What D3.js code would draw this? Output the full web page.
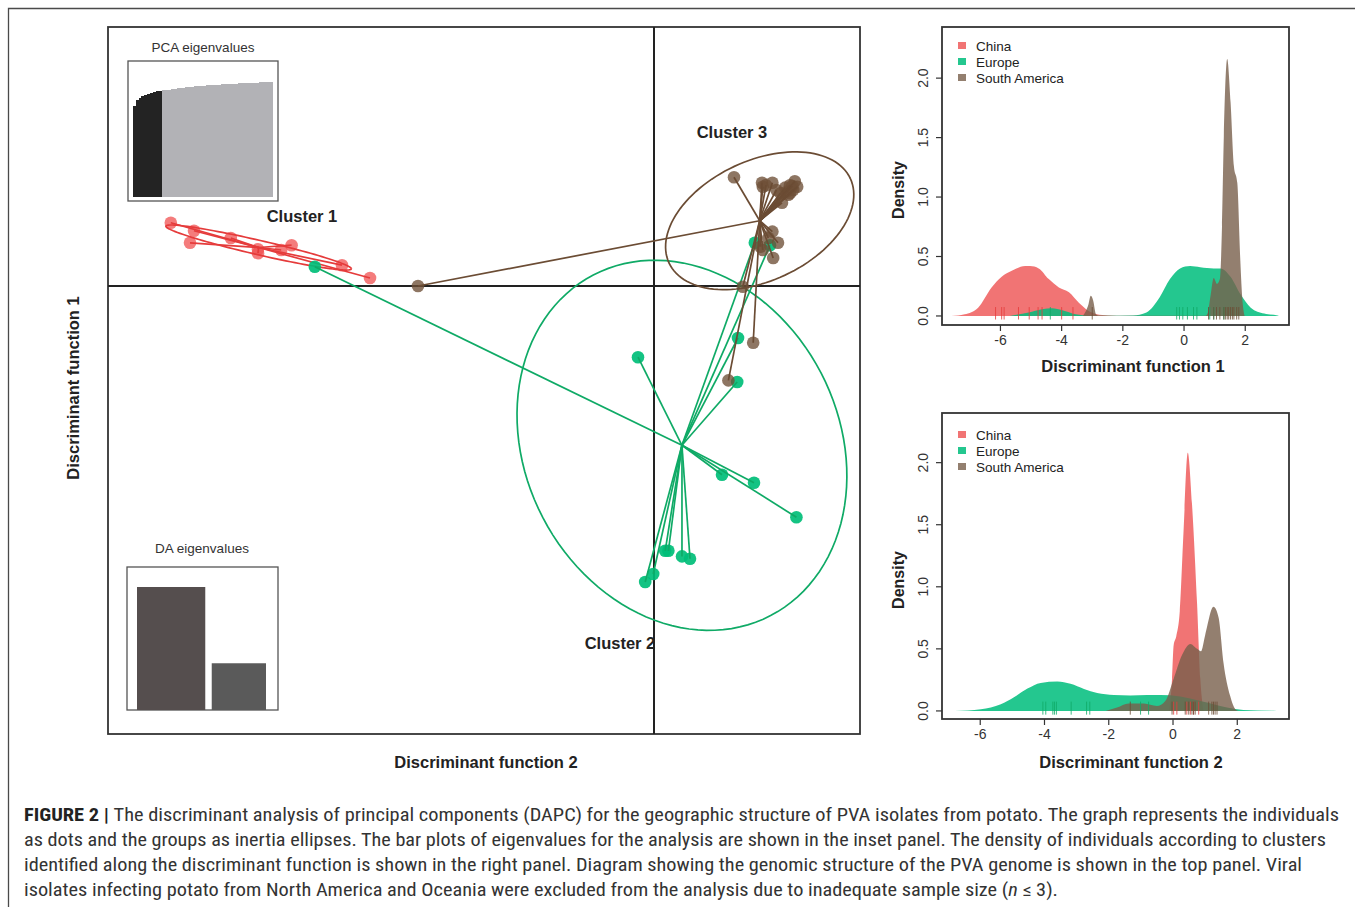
<!DOCTYPE html>
<html>
<head>
<meta charset="utf-8">
<script src="https://cdn.jsdelivr.net/npm/d3@7.9.0/dist/d3.min.js"></script>
<style>
  body { margin: 0; background: #fff; }
  svg text { font-family: "Liberation Sans", Arial, Helvetica, sans-serif; }
</style>
</head>
<body>
<div id="chart"></div>
<script>
// ---- data ----
const groups = ["China", "Europe", "South America"];

// individuals on the two discriminant functions (x, y)
const chinaPts = [[-6.04, 0.79], [-5.75, 0.69], [-5.80, 0.54], [-5.29, 0.60], [-4.95, 0.41],
  [-4.95, 0.46], [-4.66, 0.45], [-4.53, 0.51], [-3.90, 0.26], [-3.55, 0.10]];
const europePts = [[-4.24, 0.24], [-0.20, -0.89], [1.05, -0.65], [1.04, -1.20], [1.26, 0.54],
  [1.45, 0.51], [0.85, -2.36], [1.25, -2.46], [1.78, -2.89], [0.14, -3.31], [0.18, -3.31],
  [0.35, -3.38], [0.45, -3.41], [-0.11, -3.70], [-0.01, -3.60]];
const saPts = [[1.00, 1.36], [1.35, 1.29], [1.48, 1.29], [1.36, 1.24], [1.58, 1.16], [1.66, 1.18],
  [1.76, 1.31], [1.79, 1.24], [1.60, 1.04], [1.70, 1.16], [1.48, 0.68], [1.43, 0.60], [1.55, 0.54],
  [1.36, 0.45], [1.49, 0.35], [1.33, 0.49], [1.11, -0.01], [1.24, -0.71], [0.93, -1.18],
  [-2.95, 0.00], [1.70, 1.26], [1.64, 1.23], [1.53, 1.20], [1.74, 1.20], [1.40, 1.26],
  [1.73, 1.25], [1.68, 1.14]];

// inertia ellipses: semi axes and angle (degrees)
const ellipseA = [1.19, 1.96, 1.25];
const ellipseB = [0.09, 2.40, 0.75];
const ellipseAngle = [-13, 27.5, 25];

// eigenvalue insets
const pcaCumVar = [79.1, 83.9, 86.1, 87.4, 88.7, 89.6, 90.3, 90.9, 91.5, 92.0,
  92.4, 92.8, 93.2, 93.6, 93.9, 94.2, 94.5, 94.8, 95.1, 95.4, 95.6, 95.9, 96.1, 96.3, 96.5,
  96.7, 96.9, 97.1, 97.3, 97.5, 97.6, 97.8, 97.9, 98.1, 98.2, 98.4, 98.5, 98.6, 98.8, 98.9,
  99.0, 99.2, 99.3, 99.4, 99.6, 99.7, 99.9, 100.0];
const pcaRetained = 10;
const daEigen = [100, 38];

// densities along discriminant function 1
const chinaDF1 = [[-7.6, 0], [-7.17, 0.014], [-6.73, 0.07], [-6.29, 0.24], [-5.96, 0.33], [-5.63, 0.38],
  [-5.19, 0.42], [-5.03, 0.42], [-4.75, 0.40], [-4.42, 0.31], [-4.09, 0.24], [-3.76, 0.20],
  [-3.43, 0.11], [-3.10, 0.04], [-2.77, 0.01], [-2.2, 0]];
const europeDF1 = [[-5.7, 0], [-5.08, 0.03], [-4.64, 0.057], [-4.31, 0.065], [-3.98, 0.048],
  [-3.54, 0.014], [-3.2, 0.004], [-2.5, 0.002], [-1.67, 0.004], [-1.23, 0.03], [-0.79, 0.16],
  [-0.46, 0.31], [-0.13, 0.40], [0.2, 0.42], [0.53, 0.41], [0.97, 0.40], [1.19, 0.40], [1.52, 0.33],
  [1.85, 0.18], [2.18, 0.07], [2.62, 0.02], [3.06, 0.003], [3.1, 0]];
const saDF1 = [[-3.3, 0], [-3.12, 0.10], [-3.05, 0.17], [-2.97, 0.13], [-2.88, 0.014], [-2.8, 0.002],
  [0.7, 0.002], [0.78, 0.03], [0.86, 0.16], [0.97, 0.32], [1.08, 0.27], [1.17, 0.31], [1.24, 0.75],
  [1.30, 1.51], [1.41, 2.16], [1.52, 1.80], [1.63, 1.26], [1.74, 1.12], [1.83, 0.52], [1.9, 0.16],
  [1.98, 0]];
const chinaRug1 = [-6.16, -5.96, -5.88, -5.41, -5.06, -4.77, -4.64, -4.00, -3.63];
const europeRug1 = [-4.37, -0.24, -0.15, -0.04, 0.11, 0.31, 0.42, 0.84, 0.97, 1.3];
const saRug1 = [-3.0, 0.80, 0.97, 1.06, 1.17, 1.30, 1.35, 1.41, 1.46, 1.52, 1.58, 1.63, 1.72, 1.79];

// densities along discriminant function 2
const chinaDF2 = [[-0.12, 0], [-0.03, 0.26], [0.02, 0.53], [0.1, 0.6], [0.21, 0.80], [0.33, 1.46],
  [0.46, 2.08], [0.59, 1.67], [0.75, 0.86], [0.85, 0.26], [0.95, 0]];
const europeDF2 = [[-6.79, 0], [-5.98, 0.014], [-5.36, 0.054], [-4.95, 0.11], [-4.53, 0.18],
  [-4.12, 0.226], [-3.60, 0.237], [-3.19, 0.218], [-2.77, 0.177], [-2.36, 0.144], [-1.84, 0.128],
  [-1.33, 0.125], [-0.81, 0.128], [-0.39, 0.128], [0.23, 0.117], [0.85, 0.08], [1.26, 0.054],
  [1.68, 0.027], [2.19, 0.008], [3.23, 0]];
const saDF2 = [[-2.1, 0], [-1.74, 0.027], [-1.38, 0.06], [-0.91, 0.06], [-0.5, 0.04], [-0.24, 0.08],
  [0.02, 0.26], [0.28, 0.45], [0.54, 0.54], [0.75, 0.50], [0.87, 0.48], [1.0, 0.61], [1.26, 0.84],
  [1.42, 0.75], [1.57, 0.39], [1.78, 0.12], [1.94, 0.014], [2.04, 0]];
const chinaRug2 = [0.02, 0.12, 0.43, 0.54, 0.64, 0.80];
const europeRug2 = [-4.05, -3.96, -3.74, -3.69, -3.63, -3.17, -2.69, -2.59, -1.01, -0.76];
const saRug2 = [-1.33, -0.03, 0.38, 0.49, 0.59, 0.64, 0.69, 1.11, 1.21, 1.26, 1.31, 1.37];

const densTicksX = [-6, -4, -2, 0, 2];
const densTicksY = [0, 0.5, 1, 1.5, 2];

const captionLines = [
  "The discriminant analysis of principal components (DAPC) for the geographic structure of PVA isolates from potato. The graph represents the individuals",
  "as dots and the groups as inertia ellipses. The bar plots of eigenvalues for the analysis are shown in the inset panel. The density of individuals according to clusters",
  "identified along the discriminant function is shown in the right panel. Diagram showing the genomic structure of the PVA genome is shown in the top panel. Viral",
  "isolates infecting potato from North America and Oceania were excluded from the analysis due to inadequate sample size ("
];

// ---- colours ----
const lineCol = ["#E53B3B", "#0FAA66", "#6B4C34"];
const dotCol = ["rgba(240,80,80,0.75)", "rgba(0,190,120,0.92)", "rgba(110,80,55,0.78)"];
const densCol = ["rgb(240,104,104)", "rgb(0,190,125)", "rgb(120,95,75)"];
const densOpacity = [0.92, 0.86, 0.8];

const W = 1355, H = 907;
const svg = d3.select("#chart").append("svg")
    .attr("width", W)
    .attr("height", H);

// outer frame (top and left edges)
svg.append("path")
    .attr("d", "M8.5,907V8.5H1355")
    .attr("fill", "none")
    .attr("stroke", "#4a4a4a")
    .attr("stroke-width", 1.3);

// ---- main scatter ----
const xMain = d3.scaleLinear().domain([-6.825, 2.575]).range([108, 860]);
const yMain = d3.scaleLinear().domain([-5.6, 3.2375]).range([734, 27]);

const main = svg.append("g");
main.append("rect")
    .attr("x", 108).attr("y", 27)
    .attr("width", 752).attr("height", 707)
    .attr("fill", "none").attr("stroke", "#333").attr("stroke-width", 1.8);

main.append("line")
    .attr("x1", xMain(0)).attr("x2", xMain(0))
    .attr("y1", 27).attr("y2", 734)
    .attr("stroke", "#222").attr("stroke-width", 2);
main.append("line")
    .attr("x1", 108).attr("x2", 860)
    .attr("y1", yMain(0)).attr("y2", yMain(0))
    .attr("stroke", "#222").attr("stroke-width", 2);

function ellipsePts(c, a, b, angleDeg) {
    const phi = angleDeg * Math.PI / 180;
    return d3.range(0, 361, 3).map(t => {
        const r = t * Math.PI / 180;
        return [c[0] + a * Math.cos(r) * Math.cos(phi) - b * Math.sin(r) * Math.sin(phi),
                c[1] + a * Math.cos(r) * Math.sin(phi) + b * Math.sin(r) * Math.cos(phi)];
    });
}

const mainLine = d3.line().x(d => xMain(d[0])).y(d => yMain(d[1]));

[chinaPts, europePts, saPts].forEach((pts, i) => {
    const c = [d3.mean(pts, d => d[0]), d3.mean(pts, d => d[1])];
    // dots
    main.append("g").selectAll("circle")
        .data(pts)
        .join("circle")
        .attr("cx", d => xMain(d[0]))
        .attr("cy", d => yMain(d[1]))
        .attr("r", 6.3)
        .attr("fill", dotCol[i]);
    // star lines to centroid
    main.append("g").selectAll("line")
        .data(pts)
        .join("line")
        .attr("x1", xMain(c[0])).attr("y1", yMain(c[1]))
        .attr("x2", d => xMain(d[0])).attr("y2", d => yMain(d[1]))
        .attr("stroke", lineCol[i]).attr("stroke-width", 1.7);
    // inertia ellipse
    main.append("path")
        .attr("d", mainLine(ellipsePts(c, ellipseA[i], ellipseB[i], ellipseAngle[i])))
        .attr("fill", "none")
        .attr("stroke", lineCol[i])
        .attr("stroke-width", 1.7);
});

const clusterLabels = [["Cluster 1", 302, 222], ["Cluster 3", 732, 138], ["Cluster 2", 620, 649]];
main.selectAll("text.cl")
    .data(clusterLabels)
    .join("text")
    .attr("class", "cl")
    .attr("x", d => d[1]).attr("y", d => d[2])
    .attr("text-anchor", "middle")
    .attr("font-size", 16.5).attr("font-weight", "bold").attr("fill", "#222")
    .text(d => d[0]);

main.append("text")
    .attr("x", 486).attr("y", 768)
    .attr("text-anchor", "middle")
    .attr("font-size", 16.5).attr("font-weight", "bold").attr("fill", "#222")
    .text("Discriminant function 2");
main.append("text")
    .attr("transform", "translate(79,388) rotate(-90)")
    .attr("text-anchor", "middle")
    .attr("font-size", 16.5).attr("font-weight", "bold").attr("fill", "#222")
    .text("Discriminant function 1");

// ---- PCA eigenvalues inset ----
const pca = svg.append("g");
pca.append("rect")
    .attr("x", 128).attr("y", 61).attr("width", 150).attr("height", 140)
    .attr("fill", "#fff").attr("stroke", "#555").attr("stroke-width", 1.3);
const xPca = d3.scaleBand().domain(d3.range(pcaCumVar.length)).range([132.7, 273.3]);
const yPca = d3.scaleLinear().domain([0, 100]).range([196.7, 81.7]);
pca.append("g")
    .attr("shape-rendering", "crispEdges")
    .selectAll("rect")
    .data(pcaCumVar)
    .join("rect")
    .attr("x", (d, i) => xPca(i))
    .attr("width", (d, i) => i === pcaCumVar.length - 1 ? xPca.bandwidth() : xPca.bandwidth() + 1.2)
    .attr("y", d => yPca(d))
    .attr("height", d => yPca(0) - yPca(d))
    .attr("fill", (d, i) => i < pcaRetained ? "#232323" : "#b2b2b6");
pca.append("text")
    .attr("x", 203).attr("y", 52)
    .attr("text-anchor", "middle")
    .attr("font-size", 13.5).attr("fill", "#333")
    .text("PCA eigenvalues");

// ---- DA eigenvalues inset ----
const da = svg.append("g");
da.append("rect")
    .attr("x", 127).attr("y", 567).attr("width", 151).attr("height", 143)
    .attr("fill", "#fff").attr("stroke", "#555").attr("stroke-width", 1.3);
const xDa = d3.scaleBand().domain(d3.range(daEigen.length)).range([137, 276]).paddingInner(0.14);
const yDa = d3.scaleLinear().domain([0, 100]).range([710, 587]);
da.selectAll("rect.bar")
    .data(daEigen)
    .join("rect")
    .attr("class", "bar")
    .attr("x", (d, i) => xDa(i))
    .attr("width", (d, i) => i === 0 ? xDa.bandwidth() + 4 : xDa.bandwidth() - 10)
    .attr("y", d => yDa(d))
    .attr("height", d => yDa(0) - yDa(d))
    .attr("fill", (d, i) => i === 0 ? "#554e4e" : "#5a5a5a");
da.append("text")
    .attr("x", 202).attr("y", 553)
    .attr("text-anchor", "middle")
    .attr("font-size", 13.5).attr("fill", "#333")
    .text("DA eigenvalues");

// ---- density panels ----
function densityPanel(opt) {
    const g = svg.append("g");
    const x = d3.scaleLinear().domain(opt.xDomain).range([opt.x0, opt.x1]);
    const y = d3.scaleLinear().domain(opt.yDomain).range([opt.y1, opt.y0]);
    const clipId = "clip" + opt.id;
    g.append("clipPath").attr("id", clipId)
        .append("rect")
        .attr("x", opt.x0).attr("y", opt.y0)
        .attr("width", opt.x1 - opt.x0).attr("height", opt.y1 - opt.y0);

    const plot = g.append("g").attr("clip-path", `url(#${clipId})`);
    const area = d3.area()
        .x(d => x(d[0]))
        .y0(y(0))
        .y1(d => y(d[1]))
        .curve(d3.curveMonotoneX);

    opt.curves.forEach((c, i) => {
        plot.append("path")
            .attr("d", area(c))
            .attr("fill", densCol[i])
            .attr("fill-opacity", densOpacity[i]);
    });
    opt.rugs.forEach((r, i) => {
        plot.append("g").selectAll("line")
            .data(r)
            .join("line")
            .attr("x1", d => x(d)).attr("x2", d => x(d))
            .attr("y1", y(0.075)).attr("y2", y(-0.03))
            .attr("stroke", lineCol[i])
            .attr("stroke-opacity", 0.8)
            .attr("stroke-width", 1);
    });

    g.append("rect")
        .attr("x", opt.x0).attr("y", opt.y0)
        .attr("width", opt.x1 - opt.x0).attr("height", opt.y1 - opt.y0)
        .attr("fill", "none").attr("stroke", "#333").attr("stroke-width", 1.8);

    // x axis
    const xa = g.append("g");
    xa.selectAll("line")
        .data(densTicksX)
        .join("line")
        .attr("x1", d => x(d)).attr("x2", d => x(d))
        .attr("y1", opt.y1).attr("y2", opt.y1 + 6)
        .attr("stroke", "#333").attr("stroke-width", 1.2);
    xa.selectAll("text")
        .data(densTicksX)
        .join("text")
        .attr("x", d => x(d)).attr("y", opt.y1 + 20)
        .attr("text-anchor", "middle")
        .attr("font-size", 14).attr("fill", "#333")
        .text(d => d);

    // y axis
    const ya = g.append("g");
    ya.selectAll("line")
        .data(densTicksY)
        .join("line")
        .attr("x1", opt.x0 - 6).attr("x2", opt.x0)
        .attr("y1", d => y(d)).attr("y2", d => y(d))
        .attr("stroke", "#333").attr("stroke-width", 1.2);
    ya.selectAll("text")
        .data(densTicksY)
        .join("text")
        .attr("transform", d => `translate(${opt.x0 - 14},${y(d)}) rotate(-90)`)
        .attr("text-anchor", "middle")
        .attr("font-size", 14).attr("fill", "#333")
        .text(d => d3.format(".1f")(d));

    g.append("text")
        .attr("transform", `translate(${opt.x0 - 38},${(opt.y0 + opt.y1) / 2 + 14}) rotate(-90)`)
        .attr("text-anchor", "middle")
        .attr("font-size", 16).attr("font-weight", "bold").attr("fill", "#222")
        .text("Density");
    g.append("text")
        .attr("x", opt.titleX).attr("y", opt.y1 + opt.titleGap)
        .attr("text-anchor", "middle")
        .attr("font-size", 16.5).attr("font-weight", "bold").attr("fill", "#222")
        .text(opt.title);

    // legend
    const lg = g.append("g").attr("transform", `translate(${opt.x0 + 16},${opt.y0 + opt.legendGap})`);
    groups.forEach((name, i) => {
        lg.append("rect")
            .attr("x", 0).attr("y", i * 16 - 4)
            .attr("width", 8).attr("height", 7)
            .attr("fill", densCol[i]).attr("fill-opacity", densOpacity[i]);
        lg.append("text")
            .attr("x", 18).attr("y", i * 16 + 5)
            .attr("font-size", 13.5).attr("fill", "#222")
            .text(name);
    });
}

densityPanel({
    id: 1, x0: 942, x1: 1289, y0: 27, y1: 325,
    xDomain: [-7.91, 3.43], yDomain: [-0.076, 2.43],
    curves: [chinaDF1, europeDF1, saDF1],
    rugs: [chinaRug1, europeRug1, saRug1],
    title: "Discriminant function 1", titleX: 1133, titleGap: 47, legendGap: 19
});
densityPanel({
    id: 2, x0: 942, x1: 1289, y0: 413, y1: 719,
    xDomain: [-7.19, 3.61], yDomain: [-0.065, 2.40],
    curves: [chinaDF2, europeDF2, saDF2],
    rugs: [chinaRug2, europeRug2, saRug2],
    title: "Discriminant function 2", titleX: 1131, titleGap: 49, legendGap: 22
});

// ---- caption ----
const cap = svg.append("g")
    .attr("font-size", 18)
    .attr("fill", "#333");
const capWidths = [1315, 1302, 1278, 1034];
const capBase = [821, 846, 871, 896];
captionLines.forEach((line, i) => {
    const t = cap.append("text")
        .attr("x", 24).attr("y", capBase[i])
        .attr("textLength", capWidths[i])
        .attr("lengthAdjust", "spacingAndGlyphs")
        .style("font-family", "'Liberation Sans Narrow', 'Roboto Condensed', 'Liberation Sans', Arial, sans-serif");
    if (i === 0) {
        t.append("tspan").attr("font-weight", "bold").attr("fill", "#222").text("FIGURE 2 | ");
    }
    t.append("tspan").text(line);
    if (i === 3) {
        t.append("tspan").attr("font-style", "italic").text("n");
        t.append("tspan").text(" \u2264 3).");
    }
});
</script>
</body>
</html>
